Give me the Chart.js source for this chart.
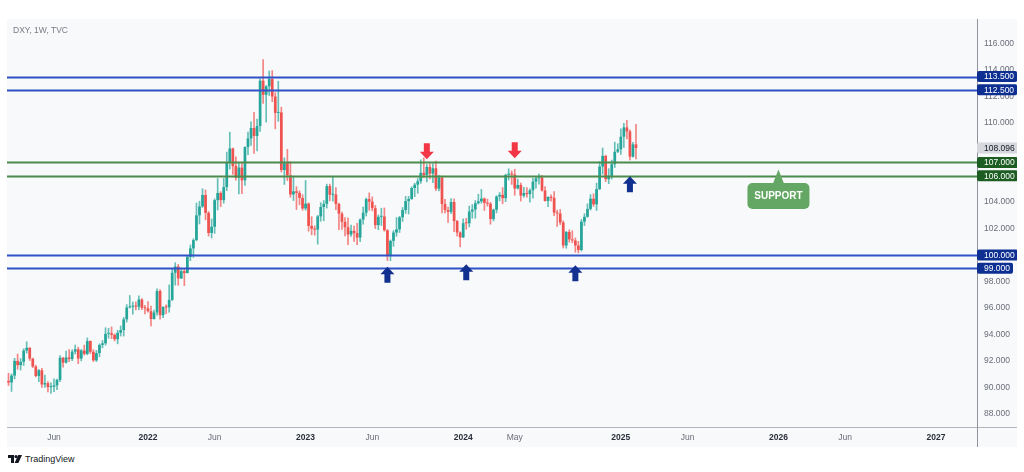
<!DOCTYPE html>
<html>
<head>
<meta charset="utf-8">
<script src="https://cdn.jsdelivr.net/npm/chart.js@4.4.1/dist/chart.umd.min.js"></script>
<style>
  html, body { margin: 0; padding: 0; background: #fff; }
  body { width: 1024px; height: 472px; position: relative; overflow: hidden;
         font-family: "Liberation Sans", Arial, sans-serif; }
  #panel { position: absolute; left: 7px; top: 19px; width: 1010px; height: 428px; background: #f8f9fb; }
  #panel canvas { position: absolute; left: 0; top: 0; }
  #symbol { position: absolute; left: 6px; top: 6px; font-size: 8.5px; color: #787b86; z-index: 2; }
  #brand { position: absolute; left: 8px; top: 454px; height: 10px; display: flex; align-items: center;
           font-size: 9px; color: #131722; }
  #brand svg { margin-right: 3px; }
</style>
</head>
<body>
<div id="panel">
  <div id="symbol">DXY, 1W, TVC</div>
  <canvas id="chart" width="1010" height="428"></canvas>
</div>
<div id="brand">
  <svg width="14" height="8" viewBox="0 0 14 8"><path d="M0 0h6v8h-3v-5h-3z" fill="#131722"/><circle cx="8" cy="1.6" r="1.6" fill="#131722"/><path d="M10.2 0h3.8l-3.6 8h-3.8z" fill="#131722"/></svg>
  <span>TradingView</span>
</div>
<script>
(function () {
  "use strict";

  /* ---- data: DXY weekly candles, week of 2021-02-15 .. 2025-02-03 ---- */
  var firstWeek = "2021-02-15";
  var weekCount = 320;               /* axis runs on into 2027 */

  var weekOpen = [
    /* 2021 */
    90.48, 90.36, 90.88, 91.99, 91.67, 91.92, 92.77, 92.98, 92.16, 91.56, 90.85, 91.28, 90.21, 90.31, 90.01, 90.03,
    90.14, 90.55, 92.23, 91.86, 92.25, 92.13, 92.69, 92.87, 92.17, 92.78, 92.52, 93.49, 92.68, 92.03, 92.58, 93.20,
    93.32, 94.04, 94.08, 93.96, 93.63, 94.12, 94.32, 95.13, 96.03, 96.09, 96.16, 96.09, 96.63, 96.01,
    /* 2022 */
    95.97, 95.75, 95.16, 95.65, 97.28, 95.45, 96.07, 96.04, 96.61, 98.66, 99.13, 98.23, 98.78, 98.64, 99.86, 100.50,
    101.13, 103.00, 103.67, 104.54, 103.19, 101.67, 102.14, 104.15, 104.69, 104.15, 105.14, 107.01, 108.06, 106.73, 105.85, 106.61,
    105.65, 108.17, 108.82, 109.61, 109.00, 109.76, 113.19, 112.12, 112.76, 113.31, 111.99, 110.75, 110.79, 106.43, 106.94, 106.03,
    104.58, 104.82, 104.70, 104.32,
    /* 2023 */
    103.52, 103.89, 102.20, 101.99, 101.92, 102.92, 103.63, 103.87, 105.21, 104.56, 104.58, 103.86, 103.13, 102.51, 102.10, 101.55,
    101.83, 101.66, 101.32, 102.68, 103.20, 104.23, 104.04, 103.54, 102.26, 102.89, 102.91, 101.87, 99.92, 101.07, 101.70, 101.94,
    102.85, 103.40, 104.08, 104.24, 105.07, 105.32, 105.58, 106.22, 106.05, 106.66, 106.16, 106.56, 105.02, 105.86, 103.86, 103.40,
    103.26, 104.01, 102.57, 101.70,
    /* 2024 */
    101.33, 102.41, 102.40, 103.29, 103.44, 103.92, 104.06, 104.27, 103.94, 103.88, 102.72, 103.43, 104.43, 104.55, 104.30, 106.06,
    106.15, 106.09, 105.03, 105.30, 104.49, 104.69, 104.61, 104.90, 105.55, 105.80, 105.87, 104.88, 104.09, 104.40, 104.32, 103.21,
    103.14, 102.46, 100.72, 101.74, 101.18, 101.10, 100.72, 100.38, 102.52, 102.89, 103.49, 104.26, 103.83, 104.99, 106.69, 107.50,
    105.74, 105.99, 106.87, 107.81, 108.00,
    /* 2025 */
    108.95, 109.65, 109.35, 107.44, 108.37
  ];
  var weekHigh = [
    91.05, 91.00, 92.19, 92.50, 92.16, 92.91, 93.44, 93.00, 92.20, 91.66, 91.35, 91.43, 90.91, 90.43, 90.34, 90.63,
    90.62, 92.40, 92.26, 92.74, 92.84, 92.83, 93.19, 93.03, 92.86, 93.19, 93.73, 93.51, 92.84, 92.78, 93.28, 93.53,
    94.50, 94.45, 94.56, 94.04, 94.30, 94.63, 95.27, 96.25, 96.94, 96.44, 96.45, 96.91, 96.71, 96.20,
    96.47, 96.14, 95.84, 97.44, 97.38, 96.09, 96.24, 97.74, 98.93, 99.42, 99.29, 99.00, 98.94, 99.94, 100.76, 101.23,
    103.93, 104.07, 105.01, 104.92, 103.29, 102.73, 104.24, 105.79, 104.79, 105.79, 107.79, 109.29, 108.09, 107.43, 106.94, 106.93,
    108.19, 109.30, 110.08, 110.79, 110.28, 113.33, 114.78, 112.82, 113.92, 113.95, 112.28, 113.15, 111.18, 107.35, 107.99, 107.06,
    105.87, 105.17, 104.86, 104.57,
    105.63, 103.95, 102.90, 102.21, 103.01, 103.96, 104.12, 105.36, 105.36, 105.88, 105.11, 103.93, 103.25, 102.84, 102.80, 102.26,
    102.18, 102.39, 102.73, 103.63, 104.31, 104.70, 104.40, 103.75, 103.03, 103.54, 103.56, 101.93, 101.14, 101.85, 102.84, 102.93,
    103.59, 104.44, 104.44, 105.16, 105.43, 105.78, 107.20, 107.35, 106.85, 106.89, 106.89, 107.11, 106.02, 105.98, 104.22, 103.62,
    104.26, 104.25, 102.63, 101.76,
    102.73, 102.78, 103.70, 103.82, 104.12, 104.60, 104.97, 104.32, 104.23, 103.99, 103.48, 104.48, 104.73, 105.10, 106.12, 106.52,
    106.36, 106.49, 105.74, 105.45, 105.12, 105.10, 105.00, 105.80, 105.91, 106.13, 106.03, 105.18, 104.41, 104.55, 104.80, 103.39,
    103.44, 102.59, 101.79, 101.91, 101.84, 101.29, 101.03, 102.69, 103.13, 103.87, 104.57, 104.63, 105.44, 107.07, 108.09, 107.55,
    106.53, 107.18, 108.54, 108.42, 109.54,
    109.97, 110.18, 109.47, 108.53, 109.88
  ];
  var weekLow = [
    90.13, 89.68, 90.63, 91.36, 91.30, 91.64, 92.58, 92.02, 91.49, 90.78, 90.42, 89.98, 89.98, 89.64, 89.53, 89.66,
    89.81, 90.41, 91.51, 91.82, 91.94, 92.01, 92.51, 91.78, 91.99, 92.43, 92.45, 92.54, 91.94, 91.94, 92.31, 92.98,
    93.19, 93.71, 93.67, 93.50, 93.28, 93.87, 93.87, 94.93, 95.99, 95.52, 95.85, 95.86, 95.87, 95.54,
    95.67, 94.63, 95.14, 95.44, 95.14, 95.26, 95.56, 95.67, 96.55, 97.72, 97.71, 98.21, 97.68, 98.63, 99.57, 99.82,
    101.08, 102.35, 103.60, 102.66, 101.43, 101.29, 101.64, 103.41, 103.66, 103.92, 104.87, 106.50, 106.10, 105.67, 104.63, 104.64,
    105.27, 107.59, 108.29, 107.68, 107.88, 109.34, 111.47, 110.06, 112.07, 111.60, 109.54, 110.11, 106.28, 105.34, 105.63, 104.37,
    104.12, 103.44, 103.80, 103.39,
    103.39, 101.80, 101.53, 101.50, 100.82, 102.55, 102.59, 103.55, 104.10, 104.08, 103.43, 101.92, 101.94, 101.45, 100.79, 101.40,
    101.03, 100.79, 101.01, 102.33, 102.95, 103.38, 103.34, 102.00, 101.92, 102.23, 101.80, 99.58, 99.57, 100.66, 101.42, 101.70,
    102.54, 103.14, 103.10, 104.20, 104.42, 104.67, 105.42, 105.84, 105.53, 105.76, 105.48, 104.86, 104.84, 103.19, 103.18, 102.46,
    103.13, 101.77, 101.42, 100.62,
    101.32, 101.95, 102.12, 102.78, 102.79, 103.85, 103.92, 103.37, 103.69, 102.33, 102.58, 103.19, 104.10, 103.88, 104.04, 105.68,
    105.34, 104.52, 104.99, 104.08, 104.37, 104.37, 103.99, 104.30, 105.05, 105.35, 104.82, 104.07, 103.65, 104.07, 102.98, 102.16,
    102.30, 100.53, 100.51, 100.97, 100.93, 100.21, 100.16, 100.30, 102.23, 102.86, 103.40, 103.68, 103.37, 104.94, 106.11, 105.55,
    105.40, 105.74, 106.62, 107.74, 107.61,
    108.14, 108.79, 107.20, 107.41, 107.26
  ];
  var weekClose = [
    90.36, 90.88, 91.99, 91.67, 91.92, 92.77, 92.98, 92.16, 91.56, 90.85, 91.28, 90.21, 90.31, 90.01, 90.03, 90.14,
    90.55, 92.23, 91.86, 92.25, 92.13, 92.69, 92.87, 92.17, 92.78, 92.52, 93.49, 92.68, 92.03, 92.58, 93.20, 93.32,
    94.04, 94.08, 93.96, 93.63, 94.12, 94.32, 95.13, 96.03, 96.09, 96.16, 96.09, 96.63, 96.01, 95.97,
    95.75, 95.16, 95.65, 97.28, 95.45, 96.07, 96.04, 96.61, 98.66, 99.13, 98.23, 98.78, 98.64, 99.86, 100.50, 101.13,
    103.00, 103.67, 104.54, 103.19, 101.67, 102.14, 104.15, 104.69, 104.15, 105.14, 107.01, 108.06, 106.73, 105.85, 106.61, 105.65,
    108.17, 108.82, 109.61, 109.00, 109.76, 113.19, 112.12, 112.76, 113.31, 111.99, 110.75, 110.79, 106.43, 106.94, 106.03, 104.58,
    104.82, 104.70, 104.32, 103.52,
    103.89, 102.20, 101.99, 101.92, 102.92, 103.63, 103.87, 105.21, 104.56, 104.58, 103.86, 103.13, 102.51, 102.10, 101.55, 101.83,
    101.66, 101.32, 102.68, 103.20, 104.23, 104.04, 103.54, 102.26, 102.89, 102.91, 101.87, 99.92, 101.07, 101.70, 101.94, 102.85,
    103.40, 104.08, 104.24, 105.07, 105.32, 105.58, 106.22, 106.05, 106.66, 106.16, 106.56, 105.02, 105.86, 103.86, 103.40, 103.26,
    104.01, 102.57, 101.70, 101.33,
    102.41, 102.40, 103.29, 103.44, 103.92, 104.06, 104.27, 103.94, 103.88, 102.72, 103.43, 104.43, 104.55, 104.30, 106.06, 106.15,
    106.09, 105.03, 105.30, 104.49, 104.69, 104.61, 104.90, 105.55, 105.80, 105.87, 104.88, 104.09, 104.40, 104.32, 103.21, 103.14,
    102.46, 100.72, 101.74, 101.18, 101.10, 100.72, 100.38, 102.52, 102.89, 103.49, 104.26, 103.83, 104.99, 106.69, 107.50, 105.74,
    105.99, 106.87, 107.81, 108.00, 108.95,
    109.65, 109.35, 107.44, 108.37, 108.096
  ];

  /* horizontal levels drawn on the chart */
  var blueLevels = [113.5, 112.5, 100, 99];
  var greenLevels = [107, 106];

  /* axis ticks */
  var yTicks = [88, 90, 92, 94, 96, 98, 100, 102, 104, 106, 108, 110, 112, 114, 116];
  var tickLabels = ["Jun", "2022", "Jun", "2023", "Jun", "2024", "May", "2025", "Jun", "2026", "Jun", "2027"];
  var tickWeeks = ["2021-05-31", "2022-01-03", "2022-06-06", "2023-01-02", "2023-06-05", "2024-01-01",
                   "2024-04-29", "2024-12-30", "2025-06-02", "2025-12-29", "2026-06-01", "2026-12-28"];

  /* annotation arrows and the callout */
  var arrowWeeks = ["2023-10-09", "2024-04-29", "2023-07-10", "2024-01-08", "2024-09-16", "2025-01-20"];
  var arrowPrices = [107.24, 107.32, 99.12, 99.30, 99.22, 105.96];
  var arrowDirs = ["down", "down", "up", "up", "up", "up"];
  var calloutWeek = "2025-12-29";
  var calloutPrice = 106.47;
  var calloutText = "SUPPORT";

  /* ---- build week labels ---------------------------------------- */
  var weekLabels = [];
  var d0 = new Date(firstWeek + "T00:00:00Z");
  for (var i = 0; i < weekCount; i++) {
    weekLabels.push(new Date(d0.getTime() + i * 7 * 86400000).toISOString().slice(0, 10));
  }

  var UP = "#26a69a", DOWN = "#ef5350";
  var FONT = "'Liberation Sans', Arial, sans-serif";
  var bodies = weekOpen.map(function (o, i) { return [o, weekClose[i]]; });
  var wicks = weekLow.map(function (l, i) { return [l, weekHigh[i]]; });
  var isUp = function (i) { return weekClose[i] >= weekOpen[i]; };

  var box = function (ctx, x, y, w, h, r) {
    ctx.beginPath();
    ctx.moveTo(x + r, y);
    ctx.arcTo(x + w, y, x + w, y + h, r);
    ctx.arcTo(x + w, y + h, x, y + h, r);
    ctx.arcTo(x, y + h, x, y, r);
    ctx.arcTo(x, y, x + w, y, r);
    ctx.closePath();
  };

  var arrow = function (ctx, cx, tip, dir, color) {
    var s = dir === "up" ? 1 : -1;
    ctx.fillStyle = color;
    ctx.beginPath();
    ctx.moveTo(cx, tip);
    ctx.lineTo(cx + 7, tip + s * 7.5);
    ctx.lineTo(cx + 3, tip + s * 7.5);
    ctx.lineTo(cx + 3, tip + s * 16);
    ctx.lineTo(cx - 3, tip + s * 16);
    ctx.lineTo(cx - 3, tip + s * 7.5);
    ctx.lineTo(cx - 7, tip + s * 7.5);
    ctx.closePath();
    ctx.fill();
  };

  var priceTag = function (ctx, area, y, value, bg, fg) {
    var txt = value.toFixed(3);
    ctx.font = "8.5px " + FONT;
    var w = ctx.measureText(txt).width;
    var py = y.getPixelForValue(value);
    box(ctx, area.right, py - 5.5, w + 10, 11, 2);
    ctx.fillStyle = bg;
    ctx.fill();
    ctx.fillStyle = fg;
    ctx.textAlign = "left";
    ctx.textBaseline = "middle";
    ctx.fillText(txt, area.right + 7, py + 0.5);
  };

  var overlays = {
    id: "overlays",
    afterDatasetsDraw: function (chart) {
      var ctx = chart.ctx, area = chart.chartArea;
      var x = chart.scales.x, y = chart.scales.y;
      ctx.save();
      ctx.lineWidth = 1.8;
      blueLevels.forEach(function (v) {
        var py = Math.round(y.getPixelForValue(v)) + 0.5;
        ctx.strokeStyle = "#2f52c6";
        ctx.beginPath(); ctx.moveTo(area.left, py); ctx.lineTo(area.right, py); ctx.stroke();
      });
      greenLevels.forEach(function (v) {
        var py = Math.round(y.getPixelForValue(v)) + 0.5;
        ctx.strokeStyle = "#4b8b4b";
        ctx.beginPath(); ctx.moveTo(area.left, py); ctx.lineTo(area.right, py); ctx.stroke();
      });

      arrowWeeks.forEach(function (wk, i) {
        var cx = x.getPixelForValue(weekLabels.indexOf(wk));
        var color = arrowDirs[i] === "up" ? "#11308f" : "#f23645";
        arrow(ctx, cx, y.getPixelForValue(arrowPrices[i]), arrowDirs[i], color);
      });

      /* SUPPORT callout */
      var ax = x.getPixelForValue(weekLabels.indexOf(calloutWeek));
      var ay = y.getPixelForValue(calloutPrice);
      ctx.fillStyle = "#64a764";
      ctx.beginPath();
      ctx.moveTo(ax, ay);
      ctx.lineTo(ax + 5.5, ay + 14);
      ctx.lineTo(ax - 5.5, ay + 14);
      ctx.closePath();
      ctx.fill();
      box(ctx, ax - 31, ay + 13.5, 62, 26, 5);
      ctx.fill();
      ctx.fillStyle = "#ffffff";
      ctx.font = "bold 10px " + FONT;
      ctx.textAlign = "center";
      ctx.textBaseline = "middle";
      ctx.fillText(calloutText, ax, ay + 27);
      ctx.restore();
    },
    afterDraw: function (chart) {
      var ctx = chart.ctx, area = chart.chartArea, y = chart.scales.y;
      ctx.save();
      ctx.lineWidth = 1;
      ctx.strokeStyle = "#b2b5be";
      ctx.beginPath();
      ctx.moveTo(0, Math.round(area.bottom) + 0.5);
      ctx.lineTo(chart.width, Math.round(area.bottom) + 0.5);
      ctx.stroke();
      ctx.strokeStyle = "#8f929b";
      ctx.beginPath();
      ctx.moveTo(Math.round(area.right) + 0.5, 0);
      ctx.lineTo(Math.round(area.right) + 0.5, chart.height);
      ctx.stroke();

      blueLevels.forEach(function (v) { priceTag(ctx, area, y, v, "#0d2f91", "#ffffff"); });
      greenLevels.forEach(function (v) { priceTag(ctx, area, y, v, "#1c5e22", "#ffffff"); });
      priceTag(ctx, area, y, weekClose[weekClose.length - 1], "#d6d8de", "#131722");
      ctx.restore();
    }
  };

  new Chart(document.getElementById("chart"), {
    type: "bar",
    data: {
      labels: weekLabels,
      datasets: [{
        data: bodies,
        grouped: false,
        barPercentage: 0.9,
        categoryPercentage: 1,
        minBarLength: 1,
        backgroundColor: function (c) { return isUp(c.dataIndex) ? UP : DOWN; },
        borderWidth: 0
      }, {
        data: wicks,
        grouped: false,
        barThickness: 1,
        backgroundColor: function (c) {
          return isUp(c.dataIndex) ? "rgba(38,166,154,0.7)" : "rgba(239,83,80,0.7)";
        },
        borderWidth: 0
      }]
    },
    options: {
      responsive: false,
      animation: false,
      layout: { padding: 0 },
      plugins: { legend: { display: false }, tooltip: { enabled: false } },
      scales: {
        x: {
          grid: { display: false, drawTicks: false },
          border: { display: false },
          afterFit: function (s) { s.height = 20; s.paddingLeft = 0; s.paddingRight = 0; },
          ticks: {
            autoSkip: false,
            maxRotation: 0,
            minRotation: 0,
            padding: 6,
            callback: function (value) {
              var k = tickWeeks.indexOf(this.getLabelForValue(value));
              return k < 0 ? "" : tickLabels[k];
            },
            font: function (c) {
              var yr = c.tick && /^\d{4}$/.test(c.tick.label);
              return { family: FONT, size: 8.5, weight: yr ? "bold" : "normal" };
            },
            color: function (c) {
              return c.tick && /^\d{4}$/.test(c.tick.label) ? "#2a2e39" : "#6a6d78";
            }
          }
        },
        y: {
          position: "right",
          min: 86.99,
          max: 117.853,
          grid: { display: false, drawTicks: false },
          border: { display: false },
          afterBuildTicks: function (s) { s.ticks = yTicks.map(function (v) { return { value: v }; }); },
          afterFit: function (s) { s.width = 40; s.paddingTop = 0; s.paddingBottom = 0; },
          ticks: {
            padding: 7,
            color: "#6a6d78",
            font: { family: FONT, size: 8.5 },
            callback: function (v) { return Number(v).toFixed(3); }
          }
        }
      }
    },
    plugins: [overlays]
  });
})();
</script>
</body>
</html>
